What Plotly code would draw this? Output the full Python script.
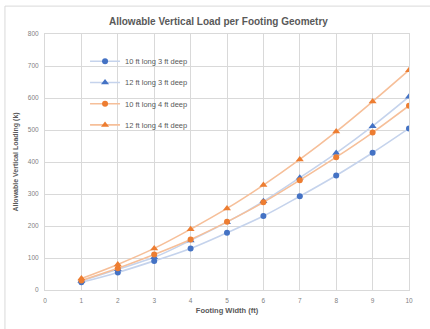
import plotly.graph_objects as go

width_ft = [1, 2, 3, 4, 5, 6, 7, 8, 9, 10]
series_names = ["10 ft long 3 ft deep", "12 ft long 3 ft deep",
                "10 ft long 4 ft deep", "12 ft long 4 ft deep"]
load_10x3 = [24, 55, 91, 130, 179, 231, 293, 358, 429, 505]
load_12x3 = [28, 65, 102, 155, 212, 277, 351, 428, 512, 604]
load_10x4 = [30, 68, 111, 158, 213, 274, 343, 415, 492, 576]
load_12x4 = [36, 80, 130, 190, 255, 328, 408, 495, 589, 687]

x_ticks = list(range(0, 11))
y_ticks = list(range(0, 801, 100))

series = [
    (series_names[0], load_10x3, "#4472C4", "#C5D3EC", "circle", 6),
    (series_names[1], load_12x3, "#4472C4", "#C5D3EC", "triangle-up", 7),
    (series_names[2], load_10x4, "#ED7D31", "#F6BF99", "circle", 6),
    (series_names[3], load_12x4, "#ED7D31", "#F6BF99", "triangle-up", 7),
]

fig = go.Figure()
for i, (name, vals, mc, lc, sym, sz) in enumerate(series):
    fig.add_trace(go.Scatter(
        x=width_ft, y=vals, name=name, mode="lines+markers",
        line=dict(color=lc, width=1.6, shape="spline"),
        marker=dict(color=mc, symbol=sym, size=sz),
        legendgroup="g%d" % i,
    ))

grid = "#D9D9D9"
fam = "Liberation Sans, Arial, sans-serif"
tick_font = dict(family=fam, size=6.5, color="#7F7F7F")
fig.update_layout(
    width=430, height=329,
    margin=dict(l=45, r=21, t=34, b=39),
    paper_bgcolor="white", plot_bgcolor="white",
    title=dict(text="<b>Allowable Vertical Load per Footing Geometry</b>",
               x=0.508, xanchor="center", y=0.935, yanchor="middle",
               font=dict(family=fam, size=10, color="#595959")),
    xaxis=dict(range=[0, 10], tickvals=x_ticks, showgrid=True, gridcolor=grid, gridwidth=1,
               zeroline=False, showline=True, linecolor=grid, mirror=True,
               tickfont=tick_font, ticks="outside", ticklen=4, tickcolor="rgba(0,0,0,0)",
               title=dict(text="<b>Footing Width (ft)</b>", standoff=4,
                          font=dict(family=fam, size=7.5, color="#595959"))),
    yaxis=dict(range=[0, 800], tickvals=y_ticks, showgrid=True, gridcolor=grid, gridwidth=1,
               zeroline=False, showline=True, linecolor=grid, mirror=True,
               tickfont=tick_font, ticks="outside", ticklen=4, tickcolor="rgba(0,0,0,0)",
               title=dict(text="<b>Allowable Vertical Loading (k)</b>", standoff=8,
                          font=dict(family=fam, size=7, color="#595959"))),
    legend=dict(x=0.11, y=0.95, xanchor="left", yanchor="top", bgcolor="rgba(0,0,0,0)",
                font=dict(family=fam, size=7.5, color="#595959"),
                tracegroupgap=2.2, itemwidth=30),
    shapes=[dict(type="rect", xref="paper", yref="paper",
                 x0=-0.11, x1=1.07, y0=-0.17, y1=1.109,
                 line=dict(color=grid, width=1), fillcolor="rgba(0,0,0,0)", layer="above")],
    showlegend=True,
)

fig.write_html("out.html", config={"displayModeBar": False},
               post_script="document.body.style.margin='0';document.body.style.padding='0';")
